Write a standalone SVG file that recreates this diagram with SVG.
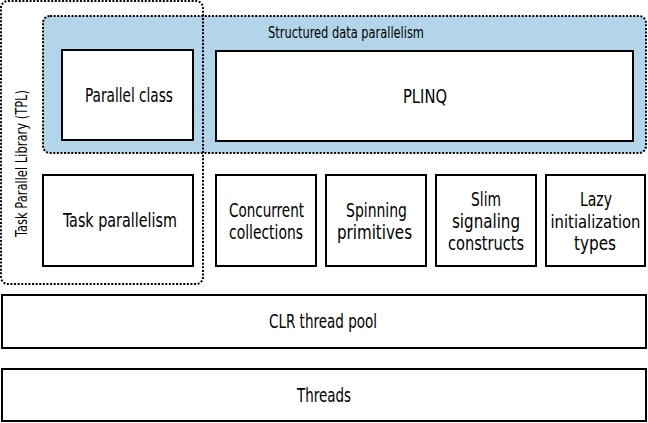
<svg xmlns="http://www.w3.org/2000/svg" width="648" height="423" viewBox="0 0 648 423">
<style>
  .box { fill: #ffffff; stroke: #000000; stroke-width: 2; }
  .dot { fill: none; stroke: #000000; stroke-width: 2; stroke-dasharray: 2 1.6; }
  .blue { fill: #b3d5e9; stroke: #000000; stroke-width: 2; stroke-dasharray: 2 1.6; }
  text { font-family: "DejaVu Sans Condensed", "DejaVu Sans", "Liberation Sans", sans-serif; font-size: 19.5px; fill: #000000; text-anchor: middle; }
  .small { font-size: 15px; }
</style>
<g id="structured-data-parallelism">
  <rect class="blue" x="43" y="16" width="603" height="137" rx="7"/>
  <text class="small" x="346" y="38" textLength="156" lengthAdjust="spacingAndGlyphs">Structured data parallelism</text>
</g>
<g id="tpl">
  <rect class="dot" x="1" y="1" width="202" height="283" rx="7"/>
  <text transform="translate(27 163.5) rotate(-90)" class="small" x="0" y="0" textLength="147" lengthAdjust="spacingAndGlyphs">Task Parallel Library (TPL)</text>
</g>
<g id="parallel-class">
  <rect class="box" x="62" y="50" width="131" height="90"/>
  <text x="129" y="102" textLength="88" lengthAdjust="spacingAndGlyphs">Parallel class</text>
</g>
<g id="plinq">
  <rect class="box" x="216" y="51" width="417" height="90"/>
  <text x="425" y="103" textLength="44" lengthAdjust="spacingAndGlyphs">PLINQ</text>
</g>
<g id="task-parallelism">
  <rect class="box" x="43" y="175" width="150" height="91"/>
  <text x="120" y="227" textLength="114" lengthAdjust="spacingAndGlyphs">Task parallelism</text>
</g>
<g id="concurrent-collections">
  <rect class="box" x="216" y="175" width="100" height="91"/>
  <text x="266.5" y="217" textLength="75" lengthAdjust="spacingAndGlyphs">Concurrent</text>
  <text x="266" y="239" textLength="74" lengthAdjust="spacingAndGlyphs">collections</text>
</g>
<g id="spinning-primitives">
  <rect class="box" x="326" y="175" width="100" height="91"/>
  <text x="376.5" y="217" textLength="61" lengthAdjust="spacingAndGlyphs">Spinning</text>
  <text x="374.5" y="239" textLength="75" lengthAdjust="spacingAndGlyphs">primitives</text>
</g>
<g id="slim-signaling-constructs">
  <rect class="box" x="436" y="175" width="100" height="91"/>
  <text x="486" y="206" textLength="30" lengthAdjust="spacingAndGlyphs">Slim</text>
  <text x="486" y="228" textLength="68" lengthAdjust="spacingAndGlyphs">signaling</text>
  <text x="486" y="250" textLength="76" lengthAdjust="spacingAndGlyphs">constructs</text>
</g>
<g id="lazy-initialization-types">
  <rect class="box" x="546" y="175" width="99" height="91"/>
  <text x="596" y="206" textLength="32" lengthAdjust="spacingAndGlyphs">Lazy</text>
  <text x="595.5" y="228" style="font-size:17.5px" textLength="90" lengthAdjust="spacingAndGlyphs">initialization</text>
  <text x="595" y="250" textLength="42" lengthAdjust="spacingAndGlyphs">types</text>
</g>
<g id="clr-thread-pool">
  <rect class="box" x="2" y="295" width="644" height="53"/>
  <text x="323" y="328" textLength="108" lengthAdjust="spacingAndGlyphs">CLR thread pool</text>
</g>
<g id="threads">
  <rect class="box" x="2" y="369" width="644" height="52"/>
  <text x="324" y="402" textLength="54" lengthAdjust="spacingAndGlyphs">Threads</text>
</g>
<g id="connectors"></g>
</svg>
